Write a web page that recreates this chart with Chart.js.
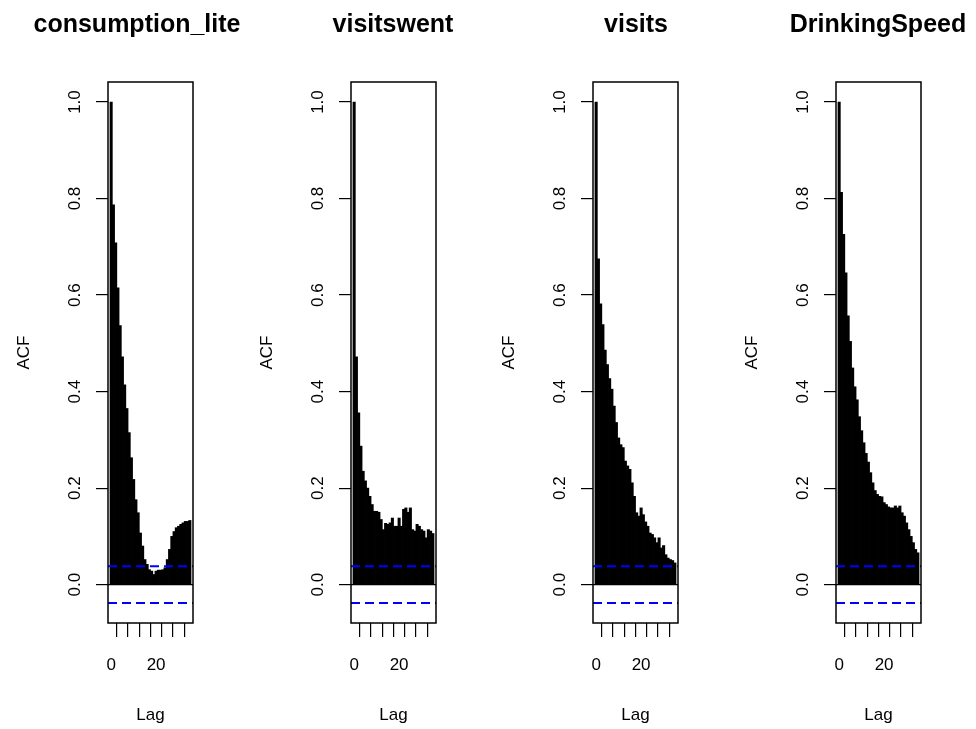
<!DOCTYPE html>
<html>
<head>
<meta charset="utf-8">
<script src="https://cdn.jsdelivr.net/npm/chart.js@4.4.1/dist/chart.umd.min.js"></script>
<style>
  body { margin: 0; background: #fff; }
  #wrap { position: relative; width: 976px; height: 729px; overflow: hidden; background: #fff; }
  .panel { position: absolute; top: 0; }
</style>
</head>
<body>
<div id="wrap"></div>
<script>
// ACF values, lags 0..35
const lags = [0, 1, 2, 3, 4, 5, 6, 7, 8, 9, 10, 11, 12, 13, 14, 15, 16, 17,
  18, 19, 20, 21, 22, 23, 24, 25, 26, 27, 28, 29, 30, 31, 32, 33, 34, 35];

const consumptionLite = [1.0, 0.787, 0.708, 0.615, 0.537, 0.472, 0.414, 0.365, 0.315,
  0.263, 0.218, 0.176, 0.149, 0.107, 0.080, 0.052, 0.042, 0.031, 0.028, 0.021, 0.028,
  0.030, 0.030, 0.031, 0.035, 0.052, 0.073, 0.100, 0.110, 0.118, 0.121, 0.125, 0.128,
  0.131, 0.131, 0.133];

const visitsWent = [1.0, 0.472, 0.356, 0.287, 0.235, 0.215, 0.200, 0.183, 0.166, 0.152,
  0.152, 0.150, 0.135, 0.114, 0.127, 0.125, 0.128, 0.138, 0.121, 0.121, 0.138, 0.121,
  0.156, 0.159, 0.150, 0.159, 0.114, 0.111, 0.125, 0.121, 0.114, 0.111, 0.097, 0.114,
  0.111, 0.106];

const visits = [1.0, 0.675, 0.582, 0.539, 0.486, 0.456, 0.427, 0.405, 0.370, 0.336,
  0.304, 0.290, 0.284, 0.256, 0.246, 0.239, 0.211, 0.183, 0.149, 0.142, 0.159, 0.145,
  0.130, 0.121, 0.107, 0.104, 0.097, 0.087, 0.097, 0.076, 0.081, 0.062, 0.055, 0.052,
  0.050, 0.045];

const drinkingSpeed = [1.0, 0.813, 0.726, 0.646, 0.557, 0.504, 0.449, 0.410, 0.383,
  0.348, 0.319, 0.294, 0.272, 0.254, 0.232, 0.211, 0.195, 0.187, 0.183, 0.182, 0.170,
  0.166, 0.161, 0.159, 0.159, 0.163, 0.159, 0.163, 0.149, 0.142, 0.128, 0.114, 0.100,
  0.087, 0.073, 0.066];

const titles = ["consumption_lite", "visitswent", "visits", "DrinkingSpeed"];
const series = [consumptionLite, visitsWent, visits, drinkingSpeed];

const ciBound = 0.038;           // blue dashed significance bounds
const yTicks = [0, 0.2, 0.4, 0.6, 0.8, 1.0];
const xTicks = [0, 5, 10, 15, 20, 25, 30, 35];
const xTickLabels = ["0", "", "", "", "20", "", "", ""];

// layout (pixels)
const boxLefts = [108, 351, 593, 836];
const titleCenters = [137, 393, 636, 878];
const canvasW = 244, canvasH = 729;
const boxW = 85, boxTop = 82, boxBottom = 623;
const leftSpace = 107;

const xMin = -1.4, xMax = 36.4;
const yMin = -0.0795, yMax = 1.0415;

const font = "'Liberation Sans', Arial, sans-serif";

function makePanel(i) {
  const canvasLeft = boxLefts[i] - leftSpace;
  const div = document.createElement("div");
  div.className = "panel";
  div.style.left = canvasLeft + "px";
  const cv = document.createElement("canvas");
  cv.width = canvasW;
  cv.height = canvasH;
  cv.style.width = canvasW + "px";
  cv.style.height = canvasH + "px";
  div.appendChild(cv);
  document.getElementById("wrap").appendChild(div);

  const rFrame = {
    id: "rFrame",
    afterDraw(chart) {
      const { ctx, chartArea: a, scales } = chart;
      ctx.save();
      // plot box
      ctx.strokeStyle = "#000";
      ctx.lineWidth = 1.5;
      ctx.strokeRect(a.left, a.top, a.right - a.left, a.bottom - a.top);
      // rotated y tick labels
      ctx.fillStyle = "#000";
      ctx.font = "17px " + font;
      ctx.textAlign = "center";
      ctx.textBaseline = "middle";
      yTicks.forEach((v) => {
        const py = scales.y.getPixelForValue(v);
        ctx.save();
        ctx.translate(a.left - 33, py);
        ctx.rotate(-Math.PI / 2);
        ctx.fillText(v.toFixed(1), 0, 0);
        ctx.restore();
      });
      // title
      ctx.font = "bold 25px " + font;
      ctx.textBaseline = "alphabetic";
      ctx.fillText(titles[i], titleCenters[i] - canvasLeft, 32);
      ctx.restore();
    },
  };

  new Chart(cv, {
    type: "bar",
    data: {
      datasets: [
        {
          type: "bar",
          data: lags.map((l, k) => ({ x: l, y: series[i][k] })),
          backgroundColor: "#000",
          borderWidth: 0,
          barThickness: 2.4,
          order: 2,
        },
        {
          type: "line",
          data: [{ x: xMin, y: 0 }, { x: xMax, y: 0 }],
          borderColor: "#000",
          borderWidth: 1.2,
          pointRadius: 0,
          order: 1,
        },
        {
          type: "line",
          data: [{ x: xMin, y: ciBound }, { x: xMax, y: ciBound }],
          borderColor: "#0000ff",
          borderWidth: 2,
          borderDash: [9, 5],
          pointRadius: 0,
          order: 0,
        },
        {
          type: "line",
          data: [{ x: xMin, y: -ciBound }, { x: xMax, y: -ciBound }],
          borderColor: "#0000ff",
          borderWidth: 2,
          borderDash: [9, 5],
          pointRadius: 0,
          order: 0,
        },
      ],
    },
    options: {
      responsive: false,
      animation: false,
      devicePixelRatio: 1,
      layout: {
        padding: { left: 0, top: boxTop, right: canvasW - leftSpace - boxW, bottom: 0 },
      },
      plugins: {
        legend: { display: false },
        tooltip: { enabled: false },
      },
      scales: {
        x: {
          type: "linear",
          offset: false,
          min: xMin,
          max: xMax,
          afterBuildTicks: (s) => {
            s.ticks = xTicks.map((v) => ({ value: v }));
          },
          afterFit: (s) => {
            s.height = canvasH - boxBottom;
          },
          grid: {
            drawOnChartArea: false,
            drawTicks: true,
            tickLength: 14,
            color: "#000",
            lineWidth: 1.2,
          },
          border: { display: false },
          ticks: {
            autoSkip: false,
            maxRotation: 0,
            minRotation: 0,
            padding: 18,
            color: "#000",
            font: { family: font, size: 17 },
            callback: (v) => xTickLabels[xTicks.indexOf(v)],
          },
          title: {
            display: true,
            text: "Lag",
            color: "#000",
            font: { family: font, size: 17 },
            padding: { top: 0, bottom: 3 },
          },
        },
        y: {
          type: "linear",
          min: yMin,
          max: yMax,
          afterBuildTicks: (s) => {
            s.ticks = yTicks.map((v) => ({ value: v }));
          },
          afterFit: (s) => {
            s.width = leftSpace;
          },
          grid: {
            drawOnChartArea: false,
            drawTicks: true,
            tickLength: 12,
            color: "#000",
            lineWidth: 1.2,
          },
          border: { display: false },
          ticks: { display: false },
          title: {
            display: true,
            text: "ACF",
            color: "#000",
            font: { family: font, size: 17 },
            padding: { top: 13, bottom: 0 },
          },
        },
      },
    },
    plugins: [rFrame],
  });
}

for (let i = 0; i < 4; i++) makePanel(i);
</script>
</body>
</html>
